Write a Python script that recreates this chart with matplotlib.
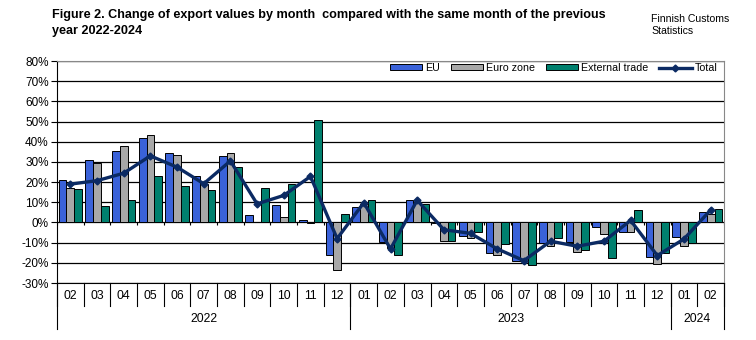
import matplotlib.pyplot as plt
import numpy as np

plt.rcParams['font.family'] = ['Liberation Sans', 'DejaVu Sans']

months = ['02', '03', '04', '05', '06', '07', '08', '09', '10', '11', '12',
          '01', '02', '03', '04', '05', '06', '07', '08', '09', '10', '11', '12',
          '01', '02']
years = ['2022', '2023', '2024']
year_counts = [11, 12, 2]

eu = [21, 30.8, 35.2, 41.6, 34.3, 22.8, 32.8, 3.8, 8.7, 1.3, -15.9,
      7.9, -9.8, 11.3, -0.3, -6.6, -15.1, -19.2, -10.2, -9.8, -2.3, -4.6, -17.2,
      -7.0, 5.2]
euro = [17, 29.3, 37.7, 43.1, 33.3, 19, 34.3, 0.3, 2.8, -0.5, -23.8,
        9.0, -12.8, 10.0, -9.3, -7.7, -16.2, -19.3, -11.8, -14.4, -5.9, -4.9, -20.7,
        -11.5, 4.4]
ext = [16.5, 8.2, 11.1, 23, 18, 16, 27.4, 17, 19, 51, 4.3,
       11.3, -16.2, 9.3, -9.0, -4.9, -10.8, -21.1, -7.9, -13.8, -17.7, 6.4, -15.1,
       -10.3, 6.9]
total = [19, 20.7, 24.4, 33, 27.4, 19.2, 30.5, 9.2, 13.4, 22.8, -8,
         9.8, -13.1, 11.0, -3.6, -5.4, -13.1, -18.9, -9.3, -11.8, -9.3, 1.0, -16.4,
         -8.2, 6.2]

x = np.arange(len(months))
w = 0.29

fig = plt.figure(figsize=(7.56, 3.40), dpi=100)
ax = fig.add_axes([57 / 756, 1 - 283 / 340, 667 / 756, 222 / 340])

ax.set_ylim(-30, 80)
ax.set_xlim(-0.5, len(months) - 0.5)
ax.set_yticks(range(-30, 81, 10))
ax.set_yticklabels([f'{v}%' for v in range(-30, 81, 10)], fontsize=8.5)
ax.yaxis.grid(True, color='black', lw=0.9)
ax.set_axisbelow(True)

b1 = ax.bar(x - w, eu, w, color='#3a62d9', edgecolor='black', lw=0.7, label='EU', zorder=3)
b2 = ax.bar(x, euro, w, color='#a8a8a8', edgecolor='black', lw=0.7, label='Euro zone', zorder=3)
b3 = ax.bar(x + w, ext, w, color='#00806e', edgecolor='black', lw=0.7, label='External trade', zorder=3)
l1, = ax.plot(x, total, color='#0b2a63', lw=2.4, marker='D', ms=3.5, label='Total', zorder=4)

# small ticks on the zero line
ax.vlines(np.arange(len(months) + 1) - 0.5, -1.3, 0, color='black', lw=0.8, zorder=2)

for s in ['top', 'right']:
    ax.spines[s].set_color('#888888')
ax.spines['left'].set_color('black')
ax.spines['bottom'].set_color('black')
ax.tick_params(axis='y', length=4, width=0.8, pad=2)

# category axis at the bottom
ax.set_xticks([])
trans = ax.get_xaxis_transform()
for i, m in enumerate(months):
    ax.text(i, -0.06, m, transform=trans, ha='center', va='center', fontsize=8.8)
for b in np.arange(len(months) + 1) - 0.5:
    ax.plot([b, b], [0, -0.105], transform=trans, color='black', lw=0.8, clip_on=False)
start = -0.5
for yr, n in zip(years, year_counts):
    ax.text(start + n / 2, -0.16, yr, transform=trans, ha='center', va='center', fontsize=8.8)
    ax.plot([start, start], [0, -0.205], transform=trans, color='black', lw=0.8, clip_on=False)
    start += n
ax.plot([start, start], [0, -0.205], transform=trans, color='black', lw=0.8, clip_on=False)

ax.legend([b1, b2, b3, l1], ['EU', 'Euro zone', 'External trade', 'Total'],
          loc='upper right', bbox_to_anchor=(1.0, 1.02), ncol=4, frameon=False,
          fontsize=7.7, handlelength=3.0, handleheight=0.5, columnspacing=1.0,
          handletextpad=0.3, borderaxespad=0.2)

fig.text(52 / 756, 1 - 9 / 340,
         'Figure 2. Change of export values by month  compared with the same month of the previous\nyear 2022-2024',
         fontsize=9.05, fontweight='bold', va='top', ha='left', linespacing=1.45)
fig.text(651 / 756, 1 - 14 / 340, 'Finnish Customs\nStatistics', fontsize=7.6, va='top', ha='left')

fig.savefig('out.png', dpi=100)
